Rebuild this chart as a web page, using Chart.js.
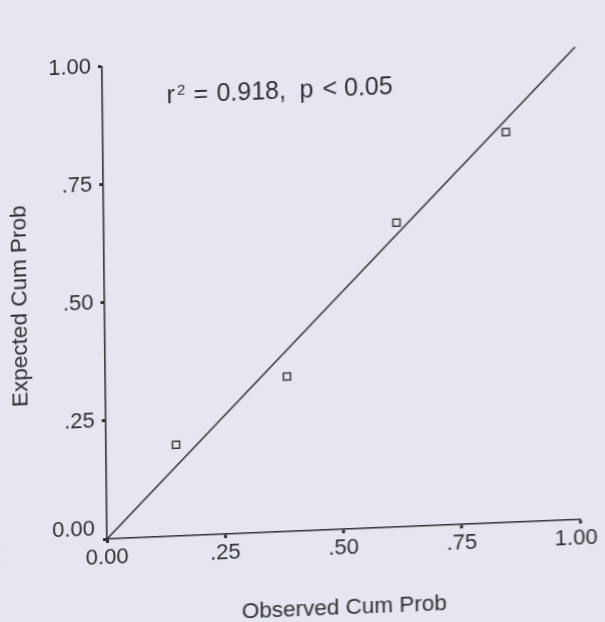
<!DOCTYPE html>
<html>
<head>
<meta charset="utf-8">
<script src="https://cdn.jsdelivr.net/npm/chart.js@4/dist/chart.umd.min.js"></script>
<style>
  html, body { margin: 0; padding: 0; width: 605px; height: 622px; overflow: hidden; background: #e5e6ef; }
  #wrap { position: absolute; left: 0; top: 0; width: 640px; height: 660px;
          transform-origin: 107px 539px;
          transform: matrix(1, -0.0412, 0.01058, 1, 0, 0); }
  canvas { display: block; background: #e5e6ef; }
</style>
</head>
<body>
<div id="wrap"><canvas id="c" width="640" height="660"></canvas></div>
<script>
// ---- data ----
const observedCumProb = [0.148, 0.384, 0.619, 0.852];
const expectedCumProb = [0.193, 0.328, 0.644, 0.826];
const refLineX = [0, 1];
const refLineY = [0, 1];
const tickValues = [0, 0.25, 0.5, 0.75, 1];
const xTickLabels = ['0.00', '.25', '.50', '.75', '1.00'];
const yTickLabels = ['0.00', '.25', '.50', '.75', '1.00'];
const xTitle = 'Observed Cum Prob';
const yTitle = 'Expected Cum Prob';
const statPieces = [['r', 0], ['=', 27], ['0.918,', 50], ['p', 133], ['<', 156], ['0.05', 177.6]];
const statSup = '2';

const INK = '#303030';
const FONT = '"Liberation Sans", Arial, sans-serif';

function labelFor(list, v) {
  const i = tickValues.findIndex(t => Math.abs(t - v) < 1e-6);
  return i >= 0 ? list[i] : '';
}

const annotate = {
  id: 'annotate',
  afterDraw(chart) {
    const ctx = chart.ctx;
    const xs = chart.scales.x, ys = chart.scales.y;
    ctx.save();
    ctx.fillStyle = INK;
    ctx.font = '22px ' + FONT;
    ctx.textBaseline = 'middle';
    // y "0.00" label sits raised above the origin
    ctx.textAlign = 'right';
    ctx.fillText(yTickLabels[0], xs.getPixelForValue(0) - 12, ys.getPixelForValue(0) - 10);
    // x "1.00" label pulled slightly inward
    ctx.textAlign = 'center';
    ctx.fillText(xTickLabels[4], xs.getPixelForValue(1) - 4, ys.getPixelForValue(0) + 19.2);
    // statistics text
    const x0 = xs.getPixelForValue(0.1356);
    const y0 = ys.getPixelForValue(0.917);
    ctx.textAlign = 'left';
    ctx.textBaseline = 'alphabetic';
    ctx.font = '25px ' + FONT;
    statPieces.forEach(([t, dx]) => ctx.fillText(t, x0 + dx, y0));
    ctx.font = '15px ' + FONT;
    ctx.fillText(statSup, x0 + 10.5, y0 - 8);
    ctx.restore();
  }
};

new Chart(document.getElementById('c'), {
  type: 'scatter',
  data: {
    datasets: [
      {
        data: refLineX.map((x, i) => ({x, y: refLineY[i]})),
        showLine: true,
        borderColor: '#2b2b2b',
        borderWidth: 1.5,
        pointRadius: 0,
        clip: false
      },
      {
        data: observedCumProb.map((x, i) => ({x, y: expectedCumProb[i]})),
        showLine: false,
        pointStyle: 'rect',
        pointRadius: 5,
        borderWidth: 1.5,
        borderColor: '#3a3a3a',
        backgroundColor: 'rgba(0,0,0,0)'
      }
    ]
  },
  options: {
    responsive: false,
    animation: false,
    devicePixelRatio: 1,
    layout: { padding: { left: 0, top: 66.5, right: 60, bottom: 0 } },
    plugins: { legend: { display: false }, tooltip: { enabled: false } },
    scales: {
      x: {
        type: 'linear', min: 0, max: 1,
        afterBuildTicks: s => { s.ticks = tickValues.map(v => ({value: v})); },
        afterFit: s => { s.height = 121; },
        grid: { drawOnChartArea: false, drawTicks: true, tickLength: 4, tickWidth: 3, tickColor: INK },
        border: { display: true, color: INK, width: 1.6 },
        ticks: { color: INK, font: { family: FONT, size: 22 }, padding: 2, maxRotation: 0, autoSkip: false,
                 callback: v => (Math.abs(v - 1) < 1e-6 ? '' : labelFor(xTickLabels, v)) },
        title: { display: true, text: xTitle, color: INK, font: { family: FONT, size: 22.5 }, padding: { top: 0, bottom: 28.5 } }
      },
      y: {
        type: 'linear', min: 0, max: 1,
        afterBuildTicks: s => { s.ticks = tickValues.map(v => ({value: v})); },
        afterFit: s => { s.width = 107; },
        grid: { drawOnChartArea: false, drawTicks: true, tickLength: 4, tickWidth: 3, tickColor: INK },
        border: { display: true, color: INK, width: 1.6 },
        ticks: { color: INK, font: { family: FONT, size: 22 }, padding: 7, autoSkip: false,
                 callback: v => (Math.abs(v) < 1e-6 ? '' : labelFor(yTickLabels, v)) },
        title: { display: true, text: yTitle, color: INK, font: { family: FONT, size: 22.5 }, padding: { top: 9, bottom: 0 } }
      }
    }
  },
  plugins: [annotate]
});
</script>
</body>
</html>
